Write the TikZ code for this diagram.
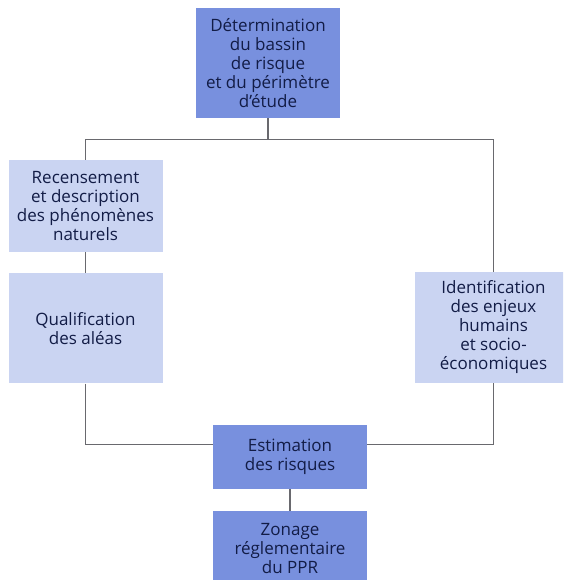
\documentclass[tikz,border=0pt]{standalone}
\usepackage{fontspec}
\setsansfont{Open Sans}
\usepackage{xcolor}
\usepackage{tikz}
\usetikzlibrary{positioning}

\definecolor{boxdark}{RGB}{120,144,222}
\definecolor{boxlight}{RGB}{202,212,242}
\definecolor{txtblue}{RGB}{18,28,70}
\definecolor{linegray}{RGB}{105,105,110}

\begin{document}
\begin{tikzpicture}[x=1pt, y=1pt,
        box/.style={
            minimum width=154pt,
            inner sep=0pt,
            align=center,
            text=txtblue,
            font=\sffamily\fontsize{17}{19}\selectfont
        },
        darkbox/.style={box, fill=boxdark},
        lightbox/.style={box, fill=boxlight},
        link/.style={draw=linegray, line width=1.1pt}
    ]
        \clip (0,0) rectangle (563,580);
        \node[darkbox, minimum width=144pt, minimum height=110pt] (bassin) at (268,517) {Détermination \\ du bassin \\ de risque \\ et du périmètre \\ d’étude};
        \node[lightbox, minimum height=92pt] (recens) at (85.5,374) {Recensement \\ et description \\ des phénomènes \\ naturels};
        \node[lightbox, minimum height=110pt, below=21pt of recens] (qualif) {Qualification \\ des aléas};
        \node[lightbox, minimum width=157pt, minimum height=111pt] (enjeux) at (493.5,252.5) {Identification \\ des enjeux \\ humains \\ et socio- \\ économiques};
        \node[darkbox, minimum height=64pt] (estim) at (290,123) {Estimation \\ des risques};
        \node[darkbox, minimum height=74pt, below=22pt of estim] (zonage) {Zonage \\ réglementaire \\ du PPR};

        \coordinate (fork) at ([yshift=-21pt]bassin.south);
        \draw[link] (bassin.south) -- (fork);
        \draw[link] (recens.north) |- (fork) -| (enjeux.north);
        \draw[link] (recens) -- (qualif);
        \draw[link] (qualif.south) |- ([yshift=-20pt]estim.north west);
        \draw[link] (enjeux.south) |- ([yshift=-20pt]estim.north east);
        \draw[link] (estim) -- (zonage);
    \end{tikzpicture}
\end{document}
